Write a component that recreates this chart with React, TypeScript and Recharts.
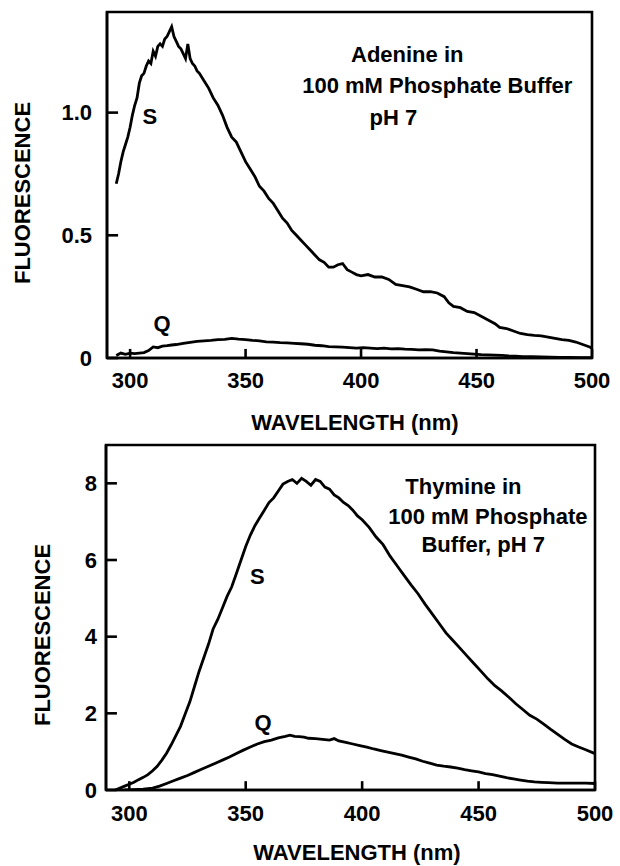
import React from 'react';
import { LineChart, Line, XAxis, YAxis, ReferenceDot, ReferenceLine, ReferenceArea, Label } from 'recharts';

type Pt = [number, number];

const xTicks = [300, 350, 400, 450, 500];
const adenineYTicks = [0, 0.5, 1.0];
const thymineYTicks = [0, 2, 4, 6, 8];

const adenineS: Pt[] = [
  [294,0.71],[295,0.75],[296,0.80],[297,0.84],[298,0.87],[299,0.90],[300,0.94],[301,0.99],[302,1.03],[303,1.06],[304,1.12],[305,1.15],[306,1.16],[307,1.19],[308,1.21],[309,1.20],[310,1.25],[311,1.23],[312,1.27],[313,1.28],[314,1.27],[315,1.30],[316,1.31],[317,1.33],[318,1.35],[319,1.31],[320,1.29],[321,1.27],[322,1.26],[323,1.24],[324,1.22],[325,1.28],[326,1.22],[327,1.20],[328,1.19],[329,1.17],[330,1.16],[332,1.13],[334,1.10],[336,1.06],[338,1.03],[340,0.99],[342,0.94],[344,0.90],[346,0.88],[348,0.84],[350,0.80],[352,0.77],[354,0.74],[356,0.70],[358,0.68],[360,0.65],[362,0.63],[364,0.60],[366,0.57],[368,0.55],[370,0.52],[372,0.50],[374,0.48],[376,0.46],[378,0.44],[380,0.42],[382,0.40],[384,0.39],[386,0.37],[388,0.37],[390,0.38],[392,0.385],[394,0.36],[396,0.35],[398,0.34],[400,0.335],[403,0.34],[406,0.33],[409,0.33],[412,0.32],[415,0.30],[418,0.295],[421,0.29],[424,0.28],[427,0.27],[430,0.27],[433,0.265],[436,0.25],[438,0.225],[440,0.21],[443,0.205],[446,0.19],[449,0.185],[452,0.17],[455,0.155],[458,0.14],[460,0.125],[463,0.12],[466,0.11],[469,0.10],[472,0.095],[475,0.092],[478,0.09],[481,0.085],[484,0.08],[487,0.075],[490,0.072],[493,0.065],[496,0.055],[499,0.045],[500,0.04]
];

const adenineQ: Pt[] = [
  [294,0.01],[296,0.02],[298,0.015],[300,0.02],[302,0.018],[304,0.02],[306,0.022],[308,0.03],[310,0.045],[312,0.042],[314,0.048],[316,0.05],[318,0.053],[320,0.055],[323,0.06],[326,0.064],[329,0.068],[332,0.07],[335,0.072],[338,0.075],[341,0.076],[344,0.08],[347,0.077],[350,0.075],[353,0.072],[356,0.07],[359,0.066],[362,0.065],[365,0.063],[368,0.062],[371,0.06],[374,0.058],[377,0.056],[380,0.052],[383,0.05],[386,0.046],[389,0.045],[392,0.044],[395,0.042],[398,0.04],[401,0.042],[404,0.04],[407,0.038],[410,0.04],[413,0.037],[416,0.038],[419,0.036],[422,0.035],[425,0.033],[428,0.034],[431,0.033],[434,0.028],[437,0.025],[440,0.022],[443,0.02],[446,0.018],[449,0.016],[452,0.014],[455,0.013],[458,0.012],[461,0.011],[464,0.009],[467,0.008],[470,0.006],[474,0.005],[478,0.004],[482,0.003],[486,0.002],[490,0.002],[495,0.001],[500,0.001]
];

const thymineS: Pt[] = [
  [294,0],[296,0.05],[298,0.1],[300,0.15],[302,0.2],[304,0.27],[306,0.33],[308,0.4],[310,0.5],[312,0.62],[314,0.78],[316,0.96],[318,1.18],[320,1.42],[322,1.66],[324,1.98],[326,2.3],[328,2.7],[330,3.1],[332,3.45],[334,3.8],[336,4.2],[338,4.45],[340,4.75],[342,5.05],[344,5.3],[346,5.65],[348,6.0],[350,6.35],[352,6.65],[354,6.9],[356,7.1],[358,7.3],[360,7.5],[362,7.62],[364,7.8],[366,7.98],[368,8.05],[370,8.1],[372,8.0],[374,8.13],[376,8.05],[378,7.95],[380,8.1],[382,8.05],[384,7.9],[386,7.85],[388,7.7],[390,7.62],[392,7.5],[394,7.42],[396,7.3],[398,7.15],[400,7.05],[403,6.85],[406,6.6],[409,6.4],[412,6.1],[415,5.85],[418,5.6],[421,5.35],[424,5.12],[427,4.85],[430,4.6],[433,4.35],[436,4.1],[439,3.9],[442,3.7],[445,3.5],[448,3.3],[451,3.1],[454,2.9],[457,2.72],[460,2.58],[463,2.42],[466,2.25],[469,2.1],[472,1.95],[475,1.85],[478,1.72],[481,1.58],[484,1.45],[487,1.32],[490,1.2],[493,1.12],[496,1.05],[500,0.95]
];

const thymineQ: Pt[] = [
  [298,0],[302,0.01],[306,0.02],[310,0.05],[313,0.1],[316,0.17],[319,0.24],[322,0.31],[325,0.38],[328,0.46],[331,0.54],[334,0.62],[337,0.7],[340,0.78],[343,0.86],[346,0.95],[349,1.04],[352,1.12],[355,1.2],[358,1.26],[361,1.3],[364,1.36],[367,1.4],[369,1.43],[371,1.4],[373,1.39],[375,1.38],[377,1.35],[380,1.34],[383,1.32],[386,1.3],[388,1.34],[390,1.28],[393,1.24],[396,1.2],[399,1.16],[402,1.12],[405,1.07],[408,1.03],[411,0.99],[414,0.95],[417,0.91],[420,0.86],[423,0.81],[426,0.75],[429,0.7],[432,0.65],[435,0.62],[438,0.6],[441,0.57],[444,0.53],[447,0.5],[450,0.47],[453,0.43],[456,0.4],[459,0.36],[462,0.32],[465,0.29],[468,0.26],[471,0.23],[474,0.21],[477,0.2],[480,0.19],[484,0.18],[488,0.18],[492,0.18],[496,0.18],[500,0.17]
];

// annotations: [text, nm, value]
const adenineNotes: [string, number, number][] = [
  ['Adenine  in', 420, 1.24],
  ['100 mM  Phosphate Buffer', 433, 1.11],
  ['pH  7', 414, 0.98],
  ['S', 308.6, 0.985],
  ['Q', 313.8, 0.14],
];
const thymineNotes: [string, number, number][] = [
  ['Thymine  in', 443.5, 7.92],
  ['100 mM Phosphate', 454, 7.14],
  ['Buffer,  pH 7', 452, 6.42],
  ['S', 355, 5.58],
  ['Q', 357.5, 1.77],
];

const xTitle = 'WAVELENGTH (nm)';
const yTitle = 'FLUORESCENCE';

const xDomain: [number, number] = [290, 500];
const adenineYDomain: [number, number] = [0, 1.41];
const thymineYDomain: [number, number] = [0, 9];
const FONT = "'Liberation Sans', Arial, sans-serif";
const textStyle = { fill: '#000', fontSize: 22, fontWeight: 700, fontFamily: FONT };
const htmlText: React.CSSProperties = { position: 'absolute', fontFamily: FONT, fontSize: 22, fontWeight: 700, color: '#000', lineHeight: '26px', textAlign: 'center', whiteSpace: 'nowrap' };
const SW = 2.6;
const axisLineStyle = { stroke: '#000', strokeWidth: SW };

const toRows = (pts: Pt[]) => pts.map(([nm, v]) => ({ nm, v }));
const adenineSRows = toRows(adenineS);
const adenineQRows = toRows(adenineQ);
const thymineSRows = toRows(thymineS);
const thymineQRows = toRows(thymineQ);

function xTickRender(p: any) {
  return <text x={p.x} y={p.y} dy="0.72em" textAnchor="middle" style={textStyle}>{p.payload.value}</text>;
}
function adenineYTickRender(p: any) {
  const v = p.payload.value;
  return <text x={p.x} y={p.y} textAnchor="end" dominantBaseline="central" style={textStyle}>{v === 0 ? '0' : Number(v).toFixed(1)}</text>;
}
function thymineYTickRender(p: any) {
  return <text x={p.x} y={p.y} textAnchor="end" dominantBaseline="central" style={textStyle}>{p.payload.value}</text>;
}

function Panel(props: {
  height: number; margin: any; yWidth: number; xHeight: number; yDomain: [number, number]; yTicks: number[];
  yTick: (p: any) => any; xMargin: number; yMargin: number; sRows: any[]; qRows: any[]; notes: [string, number, number][];
  xTickLen: number; yTickLen: number;
}) {
  const { yDomain } = props;
  return (
    <LineChart width={620} height={props.height} margin={props.margin}>
      <XAxis dataKey="nm" type="number" domain={xDomain} ticks={xTicks} allowDataOverflow height={props.xHeight}
        tickSize={0} tickMargin={props.xMargin} tick={xTickRender} axisLine={axisLineStyle} tickLine={false} />
      <YAxis type="number" domain={yDomain} ticks={props.yTicks} allowDataOverflow width={props.yWidth}
        tickSize={0} tickMargin={props.yMargin} tick={props.yTick} axisLine={axisLineStyle} tickLine={false} />
      <ReferenceArea x1={xDomain[0]} x2={xDomain[1]} y1={yDomain[0]} y2={yDomain[1]} fill="none" fillOpacity={0} stroke="#000" strokeWidth={SW} />
      {xTicks.map((t) => (
        <ReferenceLine key={'xt' + t} segment={[{ x: t, y: yDomain[0] }, { x: t, y: yDomain[0] + props.xTickLen }]} stroke="#000" strokeWidth={SW} />
      ))}
      {props.yTicks.map((t) => (
        <ReferenceLine key={'yt' + t} segment={[{ x: xDomain[0], y: t }, { x: xDomain[0] + props.yTickLen, y: t }]} stroke="#000" strokeWidth={SW} />
      ))}
      <Line data={props.sRows} dataKey="v" stroke="#000" strokeWidth={2.8} dot={false} isAnimationActive={false} />
      <Line data={props.qRows} dataKey="v" stroke="#000" strokeWidth={2.8} dot={false} isAnimationActive={false} />
      {props.notes.map(([t, x, y]) => (
        <ReferenceDot key={t + x} x={x} y={y} r={0} stroke="none" fill="none">
          <Label value={t} position="center" style={textStyle} />
        </ReferenceDot>
      ))}
    </LineChart>
  );
}

const topMargin = { top: 12, right: 28, bottom: 0, left: 0 };
const botMargin = { top: 5, right: 25, bottom: 0, left: 0 };

export default function App() {
  return (
    <div style={{ position: 'absolute', left: 0, top: 0, width: 620, height: 866, background: '#fff', fontFamily: FONT, overflow: 'hidden' }}>
      <div style={{ position: 'absolute', left: 0, top: 0 }}>
        <Panel height={440} margin={topMargin} yWidth={107} xHeight={82} yDomain={adenineYDomain} yTicks={adenineYTicks}
          yTick={adenineYTickRender} xMargin={14} yMargin={15} sRows={adenineSRows} qRows={adenineQRows} notes={adenineNotes}
          xTickLen={0.037} yTickLen={4.8} />
      </div>
      <div style={{ position: 'absolute', left: 0, top: 440 }}>
        <Panel height={426} margin={botMargin} yWidth={106} xHeight={76} yDomain={thymineYDomain} yTicks={thymineYTicks}
          yTick={thymineYTickRender} xMargin={15} yMargin={9} sRows={thymineSRows} qRows={thymineQRows} notes={thymineNotes}
          xTickLen={0.23} yTickLen={4.7} />
      </div>
      <div style={{ ...htmlText, left: 0, width: 710, top: 410 }}>{xTitle}</div>
      <div style={{ ...htmlText, left: 0, width: 714, top: 840 }}>{xTitle}</div>
      <div style={{ ...htmlText, left: -127, top: 180, width: 300, transform: 'rotate(-90deg)' }}>{yTitle}</div>
      <div style={{ ...htmlText, left: -107, top: 622, width: 300, transform: 'rotate(-90deg)' }}>{yTitle}</div>
    </div>
  );
}
